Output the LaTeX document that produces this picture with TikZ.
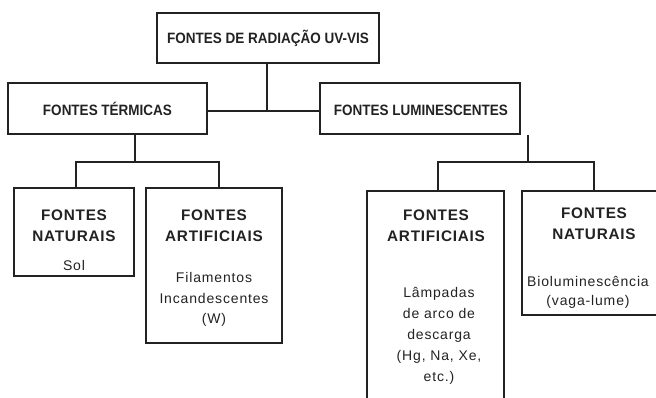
\documentclass[tikz,border=0pt]{standalone}
\usepackage{fontspec}
\setmainfont{Liberation Sans}
\newfontfamily\hdfont[FakeStretch=0.9]{Liberation Sans}
\newfontfamily\subfont[LetterSpace=5]{Liberation Sans}
\newfontfamily\bodyfont[LetterSpace=6]{Liberation Sans}
\definecolor{ink}{HTML}{222222}
\tikzset{
  boxline/.style={draw=ink, line width=1.8pt},
  conn/.style={draw=ink, line width=1.3pt},
  hd/.style={font=\hdfont\bfseries\fontsize{15}{18}\selectfont, text=ink, anchor=base},
  sub/.style={font=\subfont\bfseries\fontsize{15.3}{18}\selectfont, text=ink, anchor=base},
  body/.style={font=\bodyfont\fontsize{14}{17}\selectfont, text=ink, anchor=base},
}
\begin{document}
\begin{tikzpicture}[x=1pt,y=-1pt]
\useasboundingbox (0,0) rectangle (656,398);
% top-level boxes
\node[boxline, minimum width=222pt, minimum height=50pt, inner sep=0] (top) at (268,38) {};
\node[boxline, minimum width=199pt, minimum height=51pt, inner sep=0] (tl) at (107.5,108.5) {};
\node[boxline, minimum width=200pt, minimum height=51pt, inner sep=0] (tr) at (420,108.5) {};
\node[hd] (toptxt) at (268,43.5) {FONTES DE RADIAÇÃO UV-VIS};
\node[hd] (tltxt) at (107.5,115.5) {FONTES TÉRMICAS};
\node[hd] (trtxt) at (421,115.5) {FONTES LUMINESCENTES};
% second-level boxes
\node[boxline, minimum width=120pt, minimum height=88pt, inner sep=0] (nat) at (74,232) {};
\node[boxline, minimum width=136pt, minimum height=155pt, inner sep=0] (art) at (214,265.5) {};
% open boxes (cut by picture edge)
\coordinate (lampBL) at (367,400);
\coordinate (lampTL) at (367,191);
\coordinate (lampTR) at (504,191);
\coordinate (lampBR) at (504,400);
\draw[boxline] (lampBL) -- (lampTL) -- (lampTR) -- (lampBR);
\coordinate (bioTR) at (658,191);
\coordinate (bioTL) at (522,191);
\coordinate (bioBL) at (522,315);
\coordinate (bioBR) at (658,315);
\draw[boxline] (bioTR) -- (bioTL) -- (bioBL) -- (bioBR);
% texts
\node[sub] (n1) at (74,221) {FONTES};
\node[sub] (n2) at (74,241) {NATURAIS};
\node[body] (n3) at (74,270) {Sol};
\node[sub] (a1) at (214,221) {FONTES};
\node[sub] (a2) at (214,241) {ARTIFICIAIS};
\node[body] (a3) at (214,283) {Filamentos};
\node[body] (a4) at (214,303) {Incandescentes};
\node[body] (a5) at (214,323) {(W)};
\node[sub] (l1) at (436,221) {FONTES};
\node[sub] (l2) at (436,242) {ARTIFICIAIS};
\node[body] (l3) at (439,298) {Lâmpadas};
\node[body] (l4) at (439,318) {de arco de};
\node[body] (l5) at (439,339) {descarga};
\node[body] (l6) at (439,360) {(Hg, Na, Xe,};
\node[body] (l7) at (439,381) {etc.)};
\node[sub] (b1) at (594,219) {FONTES};
\node[sub] (b2) at (594,240) {NATURAIS};
\node[body] (b3) at (588,286) {Bioluminescência};
\node[body] (b4) at (588,305) {(vaga-lume)};
% connectors
\coordinate (jt) at (267,111);
\draw[conn] (top.south -| jt) -- (jt);
\draw[conn] (tl.east |- jt) -- (tr.west |- jt);
\coordinate (jl) at (135,162);
\coordinate (jlL) at (76,162);
\coordinate (jlR) at (219,162);
\draw[conn] (tl.south -| jl) -- (jl);
\draw[conn] (nat.north -| jlL) -- (jlL) -- (jlR) -- (art.north -| jlR);
\coordinate (jr) at (528,162);
\coordinate (jrL) at (438,162);
\coordinate (jrR) at (594,162);
\draw[conn] (tr.south -| jr) -- (jr);
\draw[conn] (lampTL -| jrL) -- (jrL) -- (jrR) -- (bioTL -| jrR);
\end{tikzpicture}
\end{document}
